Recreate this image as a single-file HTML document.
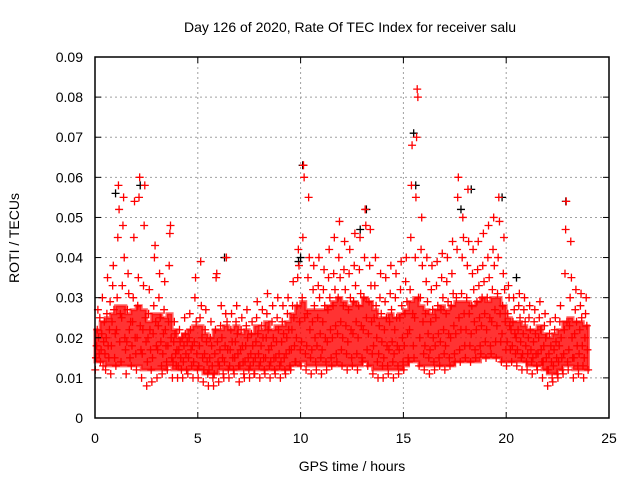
<!DOCTYPE html>
<html><head><meta charset="utf-8"><style>
body{margin:0;background:#fff;}
svg{display:block;font-family:"Liberation Sans",sans-serif;}
</style></head><body>
<svg id="chart" width="640" height="480">
<text x="350" y="32" font-size="14" text-anchor="middle">Day 126 of 2020, Rate Of TEC Index for receiver salu</text>
<g id="grid"></g>
<g id="pts"></g>
<rect x="95" y="57" width="514" height="361" fill="none" stroke="#000" stroke-width="1.5"/>
<g id="ticks"></g>
<text transform="translate(19,238) rotate(-90)" font-size="14" text-anchor="middle">ROTI / TECUs</text>
<text x="352" y="471" font-size="14" text-anchor="middle">GPS time / hours</text>
</svg>
<script>
const xTicks=[0,5,10,15,20,25];
const yTicks=[0,0.01,0.02,0.03,0.04,0.05,0.06,0.07,0.08,0.09];
const yTickLabels=["0","0.01","0.02","0.03","0.04","0.05","0.06","0.07","0.08","0.09"];
const binHours=0.25;
const redBins=[
[12,15,18,22,27,20,16,25],[14,17,21,30,13,19,24,16],[12,20,26,35,18,15,22,29],[11,18,24,33,38,27,15,21],
[13,22,30,45,58,52,19,26],[14,25,33,48,55,40,20,17],[11,19,27,36,31,22,15,24],[13,18,24,30,45,54,20,16],
[12,20,28,35,55,60,23,17],[10,16,22,33,48,58,25,19],[8,14,20,26,32,22,17,12],[9,15,21,28,40,43,24,18],
[10,17,23,30,36,25,19,13],[11,16,21,27,34,22,18,14],[12,18,24,38,46,48,20,15],[10,14,19,24,21,16,13,17],
[10,13,17,22,19,15,12,20],[10,14,18,25,21,16,12,19],[11,15,20,26,22,17,13,18],[10,14,19,30,35,24,16,12],
[10,13,18,25,39,28,20,15],[9,12,16,22,27,19,14,11],[8,12,15,20,24,18,13,10],[8,11,16,22,35,36,19,14],
[9,13,17,23,28,20,15,11],[10,14,18,26,40,24,17,12],[10,13,17,22,26,19,15,12],[11,15,19,24,28,21,16,13],
[9,13,17,22,25,18,14,11],[10,14,18,23,27,20,15,12],[10,13,16,21,24,18,14,11],[11,15,19,25,29,21,16,13],
[10,14,18,23,27,20,15,12],[11,15,20,26,31,22,17,13],[10,14,18,24,28,20,15,12],[11,15,19,25,30,22,16,13],
[10,14,19,24,28,21,15,12],[11,16,20,26,30,22,17,13],[12,17,22,28,34,25,18,14],[14,20,28,35,42,38,24,17],
[13,19,30,45,63,60,25,16],[12,18,26,35,55,40,22,15],[11,17,24,32,38,28,20,14],[12,18,25,33,40,30,21,15],
[11,17,24,32,37,28,20,14],[12,19,27,35,42,30,22,15],[13,20,28,36,45,32,23,16],[14,21,30,40,49,35,24,17],
[13,20,28,37,44,32,23,16],[12,19,27,36,42,30,22,15],[13,21,29,38,46,33,24,16],[12,20,28,37,45,31,23,15],
[14,22,30,40,52,48,25,17],[13,21,29,38,47,33,24,16],[11,18,25,33,40,28,20,14],[10,16,23,30,36,26,19,13],
[10,15,22,29,35,25,18,13],[11,17,24,31,38,27,19,14],[10,16,22,30,36,25,18,13],[11,17,25,32,39,28,20,14],
[12,18,26,34,40,29,21,15],[14,22,32,45,58,68,26,18],[15,25,40,55,70,82,80,30],[13,20,30,42,50,38,24,16],
[12,18,26,34,40,29,21,15],[11,17,24,32,38,27,20,14],[12,18,25,33,39,28,21,15],[13,19,27,35,41,30,22,16],
[12,18,26,34,40,29,21,15],[13,20,28,36,44,31,23,16],[14,21,30,42,55,60,25,17],[14,22,31,40,50,45,26,18],
[15,22,30,38,57,44,26,18],[14,21,28,36,42,32,24,17],[15,22,29,37,44,33,25,18],[16,23,30,38,46,34,26,19],
[15,22,30,40,48,35,25,18],[16,24,32,42,50,38,27,19],[15,23,31,40,55,49,26,19],[14,21,28,36,45,32,24,17],
[13,19,26,33,30,23,17,22],[14,18,24,30,27,21,16,20],[13,17,22,28,31,25,19,15],[12,16,21,27,30,24,18,14],
[12,16,20,25,28,22,17,14],[11,15,19,24,27,21,16,13],[12,16,20,25,29,22,17,14],[10,14,18,23,26,20,15,12],
[8,12,16,21,24,18,14,10],[9,13,17,22,25,19,15,11],[10,14,18,24,28,20,15,12],[11,16,22,36,47,54,24,14],
[12,17,23,30,44,35,20,15],[10,15,21,27,32,24,18,13],[11,16,22,28,31,25,18,13],[10,15,20,26,30,23,17,12]
];
const bandLo=[
14,14,13,13,13,13,13,13,13,12,12,12,12,12,13,12,12,12,12,12,12,11,11,11,
12,12,12,12,12,12,12,12,12,12,12,12,12,12,13,13,14,13,13,13,13,13,13,13,
13,13,13,13,14,13,12,12,12,12,12,12,13,14,14,13,13,13,13,13,13,13,14,14,
14,14,14,15,15,15,15,14,14,14,14,14,13,13,13,12,11,11,12,13,13,12,12,12];
const bandHi=[
22,24,25,26,28,28,26,27,28,27,24,26,26,25,26,22,20,21,22,23,23,21,20,22,
22,23,22,23,21,22,21,23,22,24,22,23,23,24,26,28,29,27,27,27,27,28,29,30,
29,28,29,28,30,29,27,25,25,26,25,26,27,29,30,28,27,26,27,28,27,28,29,29,
29,28,29,30,29,30,30,28,25,24,24,23,22,22,23,21,20,21,22,24,25,24,24,23];
const blackTimes=[1.0,2.2,10.1,10.0,13.2,15.5,15.6,17.8,18.3,19.8,22.9,6.3,9.9,12.9,20.5];
const blackValues=[0.056,0.058,0.063,0.040,0.052,0.071,0.058,0.052,0.057,0.055,0.054,0.040,0.039,0.047,0.035];

const X0=95,X1=609,Y0=418,Y1=57;
const xs=t=>X0+(t/25)*(X1-X0);
const ys=v=>Y0-(v/0.09)*(Y0-Y1);
const NS="http://www.w3.org/2000/svg";
const gridG=document.getElementById('grid'),ticksG=document.getElementById('ticks'),ptsG=document.getElementById('pts');
function mk(tag,attrs,parent){const e=document.createElementNS(NS,tag);for(const k in attrs)e.setAttribute(k,attrs[k]);parent.appendChild(e);return e;}
yTicks.forEach((v,i)=>{
  const y=ys(v);
  if(i>0&&i<yTicks.length-1){const g=mk('line',{x1:X0,x2:X1,y1:y,y2:y,stroke:'#a0a0a0','stroke-dasharray':'2,3'},gridG);
  
  }
  const t=mk('text',{x:83,y:y+5,'font-size':14,'text-anchor':'end'},ticksG);t.textContent=yTickLabels[i];
  
  
  mk('line',{x1:X0,x2:X0+6,y1:y,y2:y,stroke:'#000'},ticksG);
  mk('line',{x1:X1,x2:X1-6,y1:y,y2:y,stroke:'#000'},ticksG);
});
xTicks.forEach((v,i)=>{
  const x=xs(v);
  if(i>0&&i<xTicks.length-1){const g=mk('line',{x1:x,x2:x,y1:Y1,y2:Y0,stroke:'#a0a0a0','stroke-dasharray':'2,3'},gridG);
  
  }
  const t=mk('text',{x:x,y:443,'font-size':14,'text-anchor':'middle'},ticksG);t.textContent=String(v);
  
  
  mk('line',{x1:x,x2:x,y1:Y0,y2:Y0-6,stroke:'#000'},ticksG);
  mk('line',{x1:x,x2:x,y1:Y1,y2:Y1+6,stroke:'#000'},ticksG);
});
let bandTop='',bandBottom='';
bandHi.forEach((h,b)=>{const xa=xs(b*binHours),xb=xs((b+1)*binHours);bandTop+=`${xa},${ys(h/1000)} ${xb},${ys(h/1000)} `;});
for(let b=bandLo.length-1;b>=0;b--){const xa=xs(b*binHours),xb=xs((b+1)*binHours);bandBottom+=`${xb},${ys(bandLo[b]/1000)} ${xa},${ys(bandLo[b]/1000)} `;}
const band=mk('polygon',{points:bandTop+bandBottom,fill:'#ff0000','fill-opacity':0.8,stroke:'#ff0000','stroke-width':3,'stroke-opacity':0.6},ptsG);


function cross(t,v,color){
  const x=xs(t),y=ys(v);
  return mk('path',{d:`M${x-4} ${y}h8M${x} ${y-4}v8`,stroke:color,'stroke-width':1.3,fill:'none'},ptsG);
}
blackTimes.forEach((t,i)=>{const p=cross(t,blackValues[i],'#000');
  
  });
redBins.forEach((bin,b)=>{
  bin.forEach((m,j)=>{
    const t=b*binHours+(j+0.5)/bin.length*binHours;
    const p=cross(t,m/1000,'#ff0000');
    
    
  });
});
</script>
</body></html>
